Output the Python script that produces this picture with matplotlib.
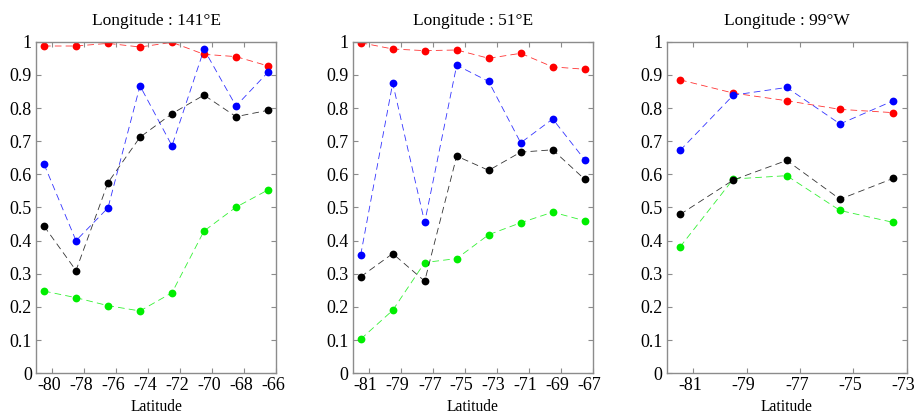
import matplotlib
matplotlib.use("Agg")
import matplotlib.pyplot as plt
import matplotlib.transforms as mtransforms
from matplotlib.ticker import FuncFormatter, MultipleLocator

plt.rcParams['font.family'] = ['Liberation Serif', 'DejaVu Serif']

titles = ["Longitude : 141\u00b0E", "Longitude : 51\u00b0E", "Longitude : 99\u00b0W"]

lat1 = [-80.5, -78.5, -76.5, -74.5, -72.5, -70.5, -68.5, -66.5]
red1 = [0.987, 0.987, 0.995, 0.984, 0.998, 0.962, 0.955, 0.927]
blue1 = [0.631, 0.400, 0.499, 0.867, 0.686, 0.977, 0.806, 0.908]
black1 = [0.444, 0.310, 0.575, 0.712, 0.783, 0.839, 0.774, 0.793]
green1 = [0.248, 0.228, 0.204, 0.188, 0.243, 0.429, 0.501, 0.553]

lat2 = [-81.5, -79.5, -77.5, -75.5, -73.5, -71.5, -69.5, -67.5]
red2 = [0.997, 0.978, 0.973, 0.975, 0.950, 0.965, 0.924, 0.917]
blue2 = [0.357, 0.875, 0.455, 0.929, 0.880, 0.695, 0.767, 0.644]
black2 = [0.291, 0.361, 0.278, 0.655, 0.612, 0.667, 0.674, 0.585]
green2 = [0.103, 0.190, 0.334, 0.346, 0.418, 0.454, 0.486, 0.460]

lat3 = [-81.5, -79.5, -77.5, -75.5, -73.5]
red3 = [0.885, 0.845, 0.822, 0.796, 0.786]
blue3 = [0.672, 0.839, 0.862, 0.752, 0.822]
black3 = [0.479, 0.583, 0.642, 0.525, 0.588]
green3 = [0.381, 0.586, 0.596, 0.491, 0.455]

xticks1 = [-80, -78, -76, -74, -72, -70, -68, -66]
xticks2 = [-81, -79, -77, -75, -73, -71, -69, -67]
xticks3 = [-81, -79, -77, -75, -73]
xlims = [(-81, -66), (-82, -67), (-82, -73)]

panels = [
    (lat1, red1, blue1, black1, green1, xticks1),
    (lat2, red2, blue2, black2, green2, xticks2),
    (lat3, red3, blue3, black3, green3, xticks3),
]

fig = plt.figure(figsize=(9.16, 4.17), dpi=100)
lefts = [36 / 916, 352.7 / 916, 666.7 / 916]
width = 240 / 916
bottom = 43.7 / 417
height = 331.6 / 417

axcol = '#8c8c8c'
fmt = FuncFormatter(lambda v, p: ('%g' % round(v, 2)))
shift = mtransforms.ScaledTranslation(-3 / 100, 0, fig.dpi_scale_trans)

for i, (lat, r, b, k, g, xt) in enumerate(panels):
    ax = fig.add_axes([lefts[i], bottom, width, height])
    for ys, c in [(r, '#ff0000'), (b, '#0000ff'), (g, '#00ee00'), (k, '#000000')]:
        ax.plot(lat, ys, color=c, linestyle=(0, (8, 5)), linewidth=0.6, alpha=0.8)
        ax.plot(lat, ys, linestyle='none', marker='o', markersize=5.6,
                color=c, markeredgewidth=0)
    ax.set_xlim(*xlims[i])
    ax.set_ylim(0, 1)
    ax.set_xticks(xt)
    ax.yaxis.set_major_locator(MultipleLocator(0.1))
    ax.yaxis.set_major_formatter(fmt)
    ax.xaxis.set_major_formatter(FuncFormatter(lambda v, p: '-%d' % abs(round(v))))
    ax.tick_params(direction='in', length=3.5, width=0.8, color=axcol,
                   top=True, right=True, labelsize=13, pad=3)
    for lbl in ax.get_xticklabels():
        lbl.set_transform(lbl.get_transform() + shift)
    for s in ax.spines.values():
        s.set_color(axcol)
        s.set_linewidth(1.0)
    ax.set_title(titles[i], fontsize=12.5, pad=12)
    ax.set_xlabel('Latitude', fontsize=11.2, labelpad=3)

fig.savefig('out.png', dpi=100)
